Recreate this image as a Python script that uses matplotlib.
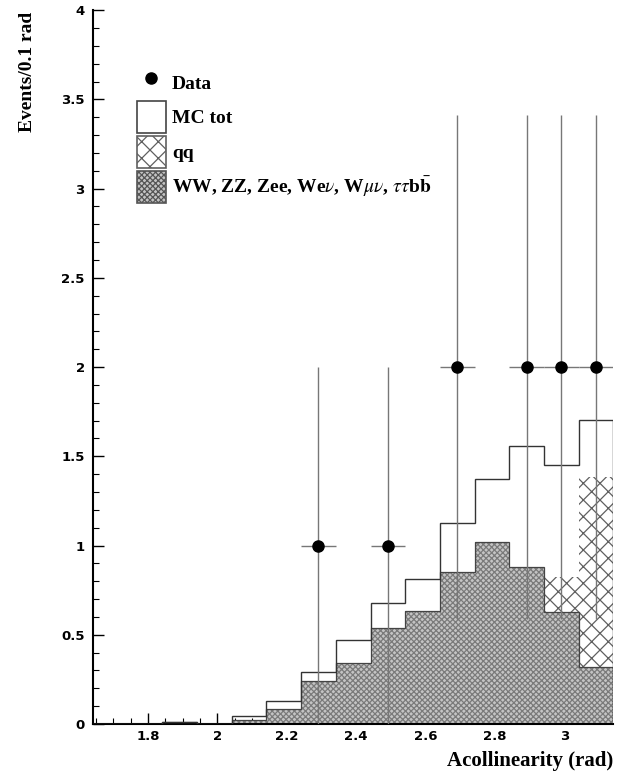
import numpy as np
import matplotlib
matplotlib.use("Agg")
import matplotlib.pyplot as plt
from matplotlib.patches import Patch
from matplotlib.lines import Line2D
from matplotlib.ticker import MultipleLocator, FormatStrFormatter

# bins of 0.1 rad ending at pi
edges = np.linspace(np.pi - 1.5, np.pi, 16)

# stacked MC (events / 0.1 rad)
ww_bkg = [0, 0, 0.012, 0, 0.025, 0.085, 0.24, 0.34, 0.54, 0.635, 0.85, 1.02, 0.88, 0.626, 0.32]
qq_bkg = [0, 0, 0, 0, 0, 0, 0, 0, 0, 0, 0, 0, 0, 0.20, 1.064]
mc_tot = [0, 0, 0.012, 0, 0.045, 0.13, 0.29, 0.47, 0.68, 0.81, 1.125, 1.375, 1.555, 1.453, 1.705]
data_n = [0, 0, 0, 0, 0, 0, 1, 0, 1, 0, 2, 0, 2, 2, 2]

ww_bkg = np.array(ww_bkg)
qq_bkg = np.array(qq_bkg)
mc_tot = np.array(mc_tot)
data_n = np.array(data_n, dtype=float)

plt.rcParams["mathtext.fontset"] = "stix"
plt.rcParams["hatch.linewidth"] = 0.9

fig = plt.figure(figsize=(6.18, 7.78), dpi=100)
ax = fig.add_axes([0.1505, 0.0694, 0.842, 0.9176])

ax.stairs(ww_bkg, edges, fill=True, facecolor="#c4c4c4", edgecolor="#7a7a7a",
          hatch="xxxxxx", linewidth=0.0, zorder=2)
ax.stairs(ww_bkg, edges, color="#444444", linewidth=0.9, zorder=3)
ax.stairs(ww_bkg + qq_bkg, edges, baseline=ww_bkg, fill=True, facecolor="white",
          edgecolor="#606060", hatch="xx", linewidth=0.0, zorder=2)
ax.stairs(mc_tot, edges, color="#333333", linewidth=1.0, zorder=3)

# data points with sqrt(n) errors
centers = 0.5 * (edges[1:] + edges[:-1])
sel = data_n > 0
x = centers[sel]
n = data_n[sel]
err = np.sqrt(n)
ax.errorbar(x, n, yerr=[np.minimum(err, n), err], xerr=0.05, fmt="none",
            ecolor="#777777", elinewidth=1.0, capsize=0, zorder=4)
ax.plot(x, n, "o", color="black", markersize=8, zorder=5)

ax.set_xlim(np.pi - 1.5, np.pi)
ax.set_ylim(0, 4)
ax.spines["top"].set_visible(False)
ax.spines["right"].set_visible(False)
ax.spines["left"].set_linewidth(1.5)
ax.spines["bottom"].set_linewidth(1.5)

ax.xaxis.set_major_locator(MultipleLocator(0.2))
ax.xaxis.set_minor_locator(MultipleLocator(0.05))
ax.yaxis.set_major_locator(MultipleLocator(0.5))
ax.yaxis.set_minor_locator(MultipleLocator(0.1))
ax.xaxis.set_major_formatter(FormatStrFormatter("%g"))
ax.yaxis.set_major_formatter(FormatStrFormatter("%g"))
ax.tick_params(which="major", direction="in", length=8, width=1, pad=6)
ax.tick_params(which="minor", direction="in", length=4, width=0.8)
ax.tick_params(axis="x", which="major", pad=4)
for lab in ax.get_xticklabels() + ax.get_yticklabels():
    lab.set_fontfamily("DejaVu Sans")
    lab.set_fontweight("bold")
    lab.set_fontsize(9.5)

ax.set_xlabel("Acollinearity (rad)", loc="right", fontsize=15, fontweight="bold",
              family="Liberation Serif", labelpad=6)
ax.set_ylabel("Events/0.1 rad", loc="top", fontsize=14, fontweight="bold",
              family="Liberation Serif")
ax.yaxis.set_label_coords(-0.11, 0.998)

handles = [
    Line2D([], [], marker="o", color="black", linestyle="none", markersize=8),
    Patch(facecolor="white", edgecolor="#444444", linewidth=1.2),
    Patch(facecolor="white", edgecolor="#606060", hatch="xx", linewidth=1.2),
    Patch(facecolor="#c4c4c4", edgecolor="#555555", hatch="xxxxxx", linewidth=1.2),
]
labels = ["Data", "MC tot", "qq",
          r"WW, ZZ, Zee, We$\nu$, W$\mu\nu$, $\tau\tau$b$\bar{\mathbf{b}}$"]
leg = ax.legend(handles, labels, loc="upper left", bbox_to_anchor=(0.058, 0.94),
                frameon=False, handlelength=1.5, handleheight=2.15, labelspacing=0.15,
                handletextpad=0.3, borderpad=0.2,
                prop={"family": "Liberation Serif", "weight": "bold", "size": 14})

fig.savefig("out.png", dpi=100)
